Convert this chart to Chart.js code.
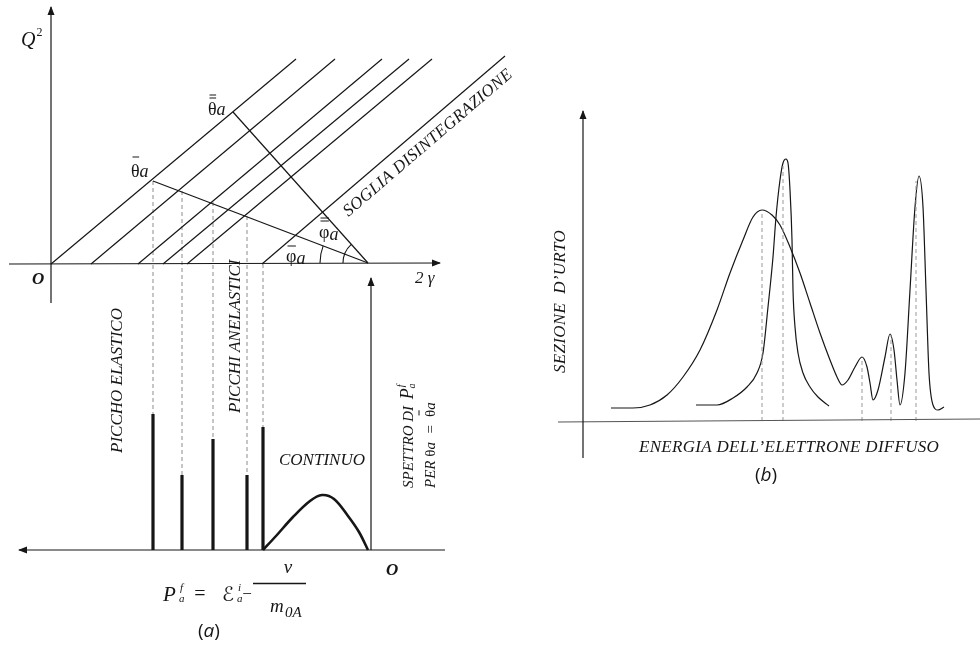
<!DOCTYPE html>
<html>
<head>
<meta charset="utf-8">
<script src="https://cdn.jsdelivr.net/npm/chart.js@4.4.0/dist/chart.umd.min.js"></script>
<style>
  html, body { margin: 0; padding: 0; background: #fff; }
  #wrap { width: 980px; height: 650px; position: relative; }
</style>
</head>
<body>
<div id="wrap"><canvas id="c"></canvas></div>
<script>
// panel (a), top: Q² against 2γ
const lineFootX = [0, 40, 87, 112, 136, 211]      // where each line leaves the 2γ axis
const lineTopX = [245, 284, 331, 358, 381, 454]
const lineTopQ = [205, 205, 205, 205, 205, 208]
const vertex = { x: 317, y: 1 }
const thetaBar = { x: 102, y: 83 }                 // θ̄a
const thetaBar2 = { x: 182, y: 152 }               // θ̄̄a
const crossQ = [83, 73, 62, 48, 0]                 // where the θ̄a line cuts the lines giving a peak

// panel (a), bottom: spectrum for θa = θ̄a
const peakX = [102, 131, 162, 196, 212]
const peakH = [136, 75, 111, 75, 123]
const contX = [212, 225, 242, 259, 271, 283, 297, 308, 317]
const contY = [0, 14, 33, 49, 55, 51, 34, 18, 0]

// panel (b): cross section against scattered electron energy
const broadX = [28, 50, 67, 84, 100, 117, 134, 147, 160, 170, 179, 189, 197, 207, 217, 227, 237, 247, 254, 259, 265, 272, 279, 284, 287, 290, 295, 302, 307, 311, 314, 317, 322, 327, 332, 336, 340, 343, 346, 350, 355, 361]
const broadY = [13, 13, 16, 26, 44, 71, 111, 148, 181, 204, 211, 206, 196, 174, 148, 118, 88, 61, 44, 36, 41, 54, 64, 54, 38, 21, 31, 64, 87, 71, 41, 16, 48, 131, 214, 245, 214, 131, 48, 16, 11, 14]
const narrowX = [113, 134, 150, 164, 174, 180, 185, 190, 193, 197, 200, 203, 205, 207, 209, 210, 212, 215, 220, 227, 235, 246]
const narrowY = [16, 16, 23, 34, 48, 68, 114, 164, 204, 241, 258, 262, 258, 231, 181, 131, 94, 68, 48, 34, 24, 15]
const dropX = [179, 200, 279, 308, 333]
const dropTop = [209, 255, 62, 85, 240]

const ink = '#161616'
const SER = '"Liberation Serif", "DejaVu Serif", serif'

function path(pts, xAxisID, yAxisID, extra) {
  return Object.assign({
    data: pts, xAxisID, yAxisID,
    borderColor: ink, borderWidth: 1.2,
    pointRadius: 0, fill: false, tension: 0, spanGaps: false
  }, extra || {})
}
const pairs = (xs, ys) => xs.map((x, i) => ({ x, y: ys[i] }))

const datasets = [
  path([{ x: 0, y: -39 }, { x: 0, y: 257 }], 'x', 'yq'),
  path([{ x: -42, y: 0 }, { x: 389, y: 1 }], 'x', 'yq'),
  ...lineFootX.map((x0, i) => path([{ x: x0, y: 0 }, { x: lineTopX[i], y: lineTopQ[i] }], 'x', 'yq')),
  path([thetaBar, vertex], 'x', 'yq'),
  path([thetaBar2, vertex], 'x', 'yq'),
  path([{ x: -32, y: 0 }, { x: 394, y: 0 }], 'x', 'ys'),
  path([{ x: 320, y: 0 }, { x: 320, y: 272 }], 'x', 'ys'),
  path(peakX.flatMap((x, i) => [{ x, y: 0 }, { x, y: peakH[i] }, { x, y: null }]), 'x', 'ys',
    { borderWidth: 3.2, borderCapStyle: 'butt' }),
  path(pairs(contX, contY), 'x', 'ys', { borderWidth: 2.6, tension: 0.35 }),

  path([{ x: 0, y: -37 }, { x: 0, y: 310 }], 'xb', 'yb'),
  path([{ x: -25, y: -1 }, { x: 397, y: 2 }], 'xb', 'yb', { borderColor: '#555' }),
  path(dropX.flatMap((x, i) => [{ x, y: 0 }, { x, y: dropTop[i] }, { x, y: null }]), 'xb', 'yb',
    { borderColor: '#999', borderWidth: 1, borderDash: [4, 3] }),
  path(pairs(broadX, broadY), 'xb', 'yb', { cubicInterpolationMode: 'monotone' }),
  path(pairs(narrowX, narrowY), 'xb', 'yb', { cubicInterpolationMode: 'monotone' })
]

function head(ctx, x, y, ang) {
  ctx.save()
  ctx.translate(x, y)
  ctx.rotate(ang)
  ctx.beginPath()
  ctx.moveTo(1, 0)
  ctx.lineTo(-8, -3.5)
  ctx.lineTo(-8, 3.5)
  ctx.closePath()
  ctx.fill()
  ctx.restore()
}

// text runs, left to right along the (possibly rotated) baseline
function runs(ctx, x, y, rot, parts) {
  ctx.save()
  ctx.translate(x, y)
  if (rot) ctx.rotate(rot)
  ctx.fillStyle = ink
  ctx.strokeStyle = ink
  ctx.lineWidth = 1
  ctx.textBaseline = 'alphabetic'
  ctx.textAlign = 'left'
  let cx = 0
  for (const p of parts) {
    cx += p.dx || 0
    ctx.font = p.f
    ctx.letterSpacing = (p.ls || 0) + 'px'
    const w = ctx.measureText(p.t).width
    ctx.fillText(p.t, cx, p.dy || 0)
    ;(p.bars || []).forEach(b => {
      ctx.beginPath()
      ctx.moveTo(cx + 1.5, b)
      ctx.lineTo(cx + w - 0.5, b)
      ctx.stroke()
    })
    cx += w
  }
  ctx.restore()
}

function txt(ctx, s, x, y, font, rot, align, base, ls) {
  ctx.save()
  ctx.translate(x, y)
  if (rot) ctx.rotate(rot)
  ctx.font = font
  ctx.letterSpacing = (ls || 0) + 'px'
  ctx.fillStyle = ink
  ctx.textAlign = align || 'left'
  ctx.textBaseline = base || 'alphabetic'
  ctx.fillText(s, 0, 0)
  ctx.restore()
}

const decor = {
  id: 'decor',
  beforeDatasetsDraw(chart) {
    const { ctx, scales: s } = chart
    ctx.save()
    ctx.strokeStyle = '#8c8c8c'
    ctx.lineWidth = 1
    ctx.setLineDash([4, 3])
    peakX.forEach((x, i) => {
      ctx.beginPath()
      ctx.moveTo(s.x.getPixelForValue(x), s.yq.getPixelForValue(crossQ[i]))
      ctx.lineTo(s.x.getPixelForValue(x), s.ys.getPixelForValue(peakH[i]))
      ctx.stroke()
    })
    ctx.restore()
  },
  afterDatasetsDraw(chart) {
    const { ctx, scales: s } = chart
    const X = v => s.x.getPixelForValue(v)
    const YQ = v => s.yq.getPixelForValue(v)
    const YS = v => s.ys.getPixelForValue(v)
    const XB = v => s.xb.getPixelForValue(v)
    const YB = v => s.yb.getPixelForValue(v)
    const up = -Math.PI / 2

    ctx.save()
    ctx.fillStyle = ink
    head(ctx, X(0), YQ(257), up)
    head(ctx, X(389), YQ(1), 0)
    head(ctx, X(320), YS(272), up)
    head(ctx, X(-32), YS(0), Math.PI)
    head(ctx, XB(0), YB(310), up)

    // angle arcs at the vertex
    const cx = X(vertex.x), cy = YQ(vertex.y)
    const angTo = p => {
      let a = Math.atan2(YQ(p.y) - cy, X(p.x) - cx)
      if (a < 0) a += 2 * Math.PI
      return a
    }
    ctx.strokeStyle = ink
    ctx.lineWidth = 1.1
    ctx.beginPath()
    ctx.arc(cx, cy, 48, Math.PI, angTo(thetaBar))
    ctx.stroke()
    ctx.beginPath()
    ctx.arc(cx, cy, 25, Math.PI, angTo(thetaBar2))
    ctx.stroke()
    ctx.restore()

    const it = n => `italic ${n}px ${SER}`
    const up18 = `18px ${SER}`

    // panel (a) labels
    runs(ctx, 21, 46, 0, [{ t: 'Q', f: it(20) }, { t: '2', f: `12px ${SER}`, dy: -10, dx: 1 }])
    runs(ctx, 131, 177, 0, [{ t: 'θ', f: up18, bars: [-20] }, { t: 'a', f: it(18) }])
    runs(ctx, 208, 115, 0, [{ t: 'θ', f: up18, bars: [-20, -17] }, { t: 'a', f: it(18) }])
    runs(ctx, 319, 238, 0, [{ t: 'φ', f: up18, bars: [-20, -17] }, { t: 'a', f: it(18), dy: 2 }])
    runs(ctx, 286, 262, 0, [{ t: 'φ', f: up18, bars: [-16] }, { t: 'a', f: it(18), dy: 2 }])
    txt(ctx, 'O', 32, 284, `bold italic 17px ${SER}`)
    txt(ctx, '2 γ', 415, 283, it(17))

    const sog = Math.atan2(YQ(lineTopQ[5]) - YQ(0), X(lineTopX[5]) - X(lineFootX[5]))
    txt(ctx, 'SOGLIA DISINTEGRAZIONE', 428, 143, it(17), sog, 'center', 'middle', 0.4)

    txt(ctx, 'PICCHO ELASTICO', 122, 453, it(17), up)
    txt(ctx, 'PICCHI ANELASTICI', 240, 413, it(17), up)
    txt(ctx, 'CONTINUO', 279, 465, it(17))

    runs(ctx, 413, 488, up, [
      { t: 'SPETTRO DI ', f: it(15) },
      { t: 'P', f: it(18), dx: 3 },
      { t: 'f', f: it(10), dy: -9, dx: 1 },
      { t: 'a', f: it(10), dy: 2, dx: -4 }
    ])
    runs(ctx, 435, 488, up, [
      { t: 'PER ', f: it(15) },
      { t: 'θ', f: `15px ${SER}` },
      { t: 'a  =  ', f: it(15) },
      { t: 'θ', f: `15px ${SER}`, bars: [-16] },
      { t: 'a', f: it(15) }
    ])
    txt(ctx, 'O', 386, 575, `bold italic 17px ${SER}`)

    // P_a^f = E_a^i - v / m_0A
    txt(ctx, 'P', 163, 601, it(21))
    txt(ctx, 'f', 180, 591, it(11))
    txt(ctx, 'a', 179, 602, it(11))
    txt(ctx, '=', 200, 600, `20px ${SER}`, 0, 'center')
    txt(ctx, 'ℰ', 222, 601, `italic 20px "DejaVu Serif", "DejaVu Sans", serif`)
    txt(ctx, 'i', 238, 591, it(11))
    txt(ctx, 'a', 237, 602, it(11))
    txt(ctx, '−', 247, 599, `17px ${SER}`, 0, 'center')
    ctx.save()
    ctx.strokeStyle = ink
    ctx.lineWidth = 1.3
    ctx.beginPath()
    ctx.moveTo(253, 583.5)
    ctx.lineTo(306, 583.5)
    ctx.stroke()
    ctx.restore()
    txt(ctx, 'v', 288, 573, it(19), 0, 'center')
    txt(ctx, 'm', 270, 612, it(19))
    txt(ctx, '0A', 285, 617, it(15))

    const sans = '"Open Sans", "Liberation Sans", sans-serif'
    runs(ctx, 198, 637, 0, [{ t: '(', f: `19px ${sans}` }, { t: 'a', f: `italic 19px ${sans}` }, { t: ')', f: `19px ${sans}` }])

    // panel (b) labels
    txt(ctx, 'SEZIONE  D’URTO', 565, 373, it(17), up, 'left', 'alphabetic', 0.3)
    txt(ctx, 'ENERGIA DELL’ELETTRONE DIFFUSO', 639, 452, it(17), 0, 'left', 'alphabetic', 0.3)
    runs(ctx, 755, 481, 0, [{ t: '(', f: `19px ${sans}` }, { t: 'b', f: `italic 19px ${sans}` }, { t: ')', f: `19px ${sans}` }])
  }
}

new Chart(document.getElementById('c'), {
  type: 'line',
  data: { datasets },
  options: {
    animation: false,
    responsive: true,
    maintainAspectRatio: false,
    events: [],
    layout: { padding: 0 },
    plugins: { legend: { display: false }, tooltip: { enabled: false } },
    scales: {
      x: { type: 'linear', axis: 'x', display: false, min: -51, max: 929 },
      xb: { type: 'linear', axis: 'x', display: false, min: -583, max: 397 },
      yq: { type: 'linear', axis: 'y', display: false, min: -386, max: 264 },
      ys: { type: 'linear', axis: 'y', display: false, min: -100, max: 550 },
      yb: { type: 'linear', axis: 'y', display: false, min: -229, max: 421 }
    }
  },
  plugins: [decor]
})
</script>
</body>
</html>
